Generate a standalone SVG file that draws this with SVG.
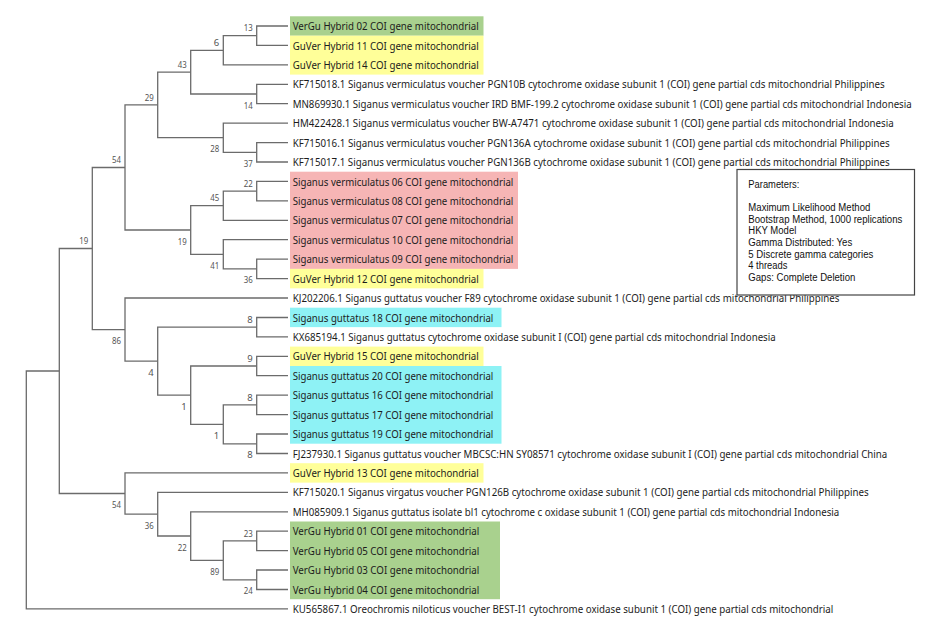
<svg xmlns="http://www.w3.org/2000/svg" width="940" height="622" viewBox="0 0 940 622">
<style>
.br{fill:none;stroke:#6b6b6b;stroke-width:1.3}
.lf{font-family:"Noto Sans","Open Sans",sans-serif;font-size:11.6px;fill:#1c1c1c}
.bs{font-family:"Noto Sans","Open Sans",sans-serif;font-size:9.5px;fill:#555;text-anchor:end}
.pm{font-family:"Liberation Sans",Arial,sans-serif;font-size:11.5px;fill:#111}
.hg{fill:#a9d18e}.hy{fill:#ffff99}.hp{fill:#f6b5b5}.hc{fill:#8ef2f5}
</style>
<rect width="940" height="622" fill="#fff"/>
<g id="highlights">
<rect class="hg" x="290" y="16.3" width="193.5" height="19.43"/>
<rect class="hy" x="290" y="35.7" width="193.5" height="38.9"/>
<rect class="hp" x="290" y="171.7" width="228" height="97.2"/>
<rect class="hy" x="290" y="268.9" width="193.5" height="19.43"/>
<rect class="hc" x="290" y="307.7" width="211.5" height="19.43"/>
<rect class="hy" x="290" y="346.6" width="193.5" height="19.43"/>
<rect class="hc" x="290" y="366.0" width="211.5" height="77.7"/>
<rect class="hy" x="290" y="463.2" width="193.5" height="19.43"/>
<rect class="hg" x="290" y="521.5" width="210" height="77.7"/>
</g>
<g id="connectors" class="br">
<path d="M26.3 490 V371 H59.3 M26.3 490 V608.9 H288"/>
<path d="M59.3 371 V248.5 H92.3 M59.3 371 V493.5 H125"/>
<path d="M92.3 248.5 V167.5 H125 M92.3 248.5 V329.6 H125"/>
<path d="M125 167.5 V104.9 H157.7 M125 167.5 V230 H190.7"/>
<path d="M157.7 104.9 V72.2 H190.7 M157.7 104.9 V137.7 H223.3"/>
<path d="M190.7 72.2 V50.3 H223.3 M190.7 72.2 V94 H256.7"/>
<path d="M223.3 50.3 V35.7 H256.7 M223.3 50.3 V64.9 H288"/>
<path d="M256.7 35.7 V26 H288 M256.7 35.7 V45.4 H288"/>
<path d="M256.7 94 V84.3 H288 M256.7 94 V103.7 H288"/>
<path d="M223.3 137.7 V123.2 H288 M223.3 137.7 V152.3 H256.7"/>
<path d="M256.7 152.3 V142.6 H288 M256.7 152.3 V162 H288"/>
<path d="M190.7 230 V205.7 H223.3 M190.7 230 V254.3 H223.3"/>
<path d="M223.3 205.7 V191.2 H256.7 M223.3 205.7 V220.3 H288"/>
<path d="M256.7 191.2 V181.4 H288 M256.7 191.2 V200.9 H288"/>
<path d="M223.3 254.3 V239.7 H288 M223.3 254.3 V268.9 H256.7"/>
<path d="M256.7 268.9 V259.2 H288 M256.7 268.9 V278.6 H288"/>
<path d="M125 329.6 V298 H288 M125 329.6 V361.2 H157.7"/>
<path d="M157.7 361.2 V327.2 H256.7 M157.7 361.2 V395.2 H190.7"/>
<path d="M256.7 327.2 V317.5 H288 M256.7 327.2 V336.9 H288"/>
<path d="M190.7 395.2 V366 H256.7 M190.7 395.2 V424.3 H223.3"/>
<path d="M256.7 366 V356.3 H288 M256.7 366 V375.7 H288"/>
<path d="M223.3 424.3 V404.9 H256.7 M223.3 424.3 V443.8 H256.7"/>
<path d="M256.7 404.9 V395.2 H288 M256.7 404.9 V414.6 H288"/>
<path d="M256.7 443.8 V434 H288 M256.7 443.8 V453.5 H288"/>
<path d="M125 493.5 V472.9 H288 M125 493.5 V514.2 H157.7"/>
<path d="M157.7 514.2 V492.3 H288 M157.7 514.2 V536 H190.7"/>
<path d="M190.7 536 V511.8 H288 M190.7 536 V560.3 H223.3"/>
<path d="M223.3 560.3 V540.9 H256.7 M223.3 560.3 V579.8 H256.7"/>
<path d="M256.7 540.9 V531.2 H288 M256.7 540.9 V550.6 H288"/>
<path d="M256.7 579.8 V570 H288 M256.7 579.8 V589.5 H288"/>
</g>
<g id="bootstrap-nodes">
<g id="n13"><text class="bs" x="252.7" y="31.4" textLength="9" lengthAdjust="spacingAndGlyphs">13</text></g>
<g id="n6"><text class="bs" x="219.3" y="46.0">6</text></g>
<g id="n43"><text class="bs" x="186.7" y="67.9" textLength="9" lengthAdjust="spacingAndGlyphs">43</text></g>
<g id="n14"><text class="bs" x="252.7" y="108.5" textLength="9" lengthAdjust="spacingAndGlyphs">14</text></g>
<g id="n29"><text class="bs" x="153.7" y="100.6" textLength="9" lengthAdjust="spacingAndGlyphs">29</text></g>
<g id="n28"><text class="bs" x="219.3" y="152.2" textLength="9" lengthAdjust="spacingAndGlyphs">28</text></g>
<g id="n37"><text class="bs" x="252.7" y="166.8" textLength="9" lengthAdjust="spacingAndGlyphs">37</text></g>
<g id="n54a"><text class="bs" x="121" y="163.2" textLength="9" lengthAdjust="spacingAndGlyphs">54</text></g>
<g id="n22a"><text class="bs" x="252.7" y="186.9" textLength="9" lengthAdjust="spacingAndGlyphs">22</text></g>
<g id="n45"><text class="bs" x="219.3" y="201.4" textLength="9" lengthAdjust="spacingAndGlyphs">45</text></g>
<g id="n19a"><text class="bs" x="186.7" y="244.5" textLength="9" lengthAdjust="spacingAndGlyphs">19</text></g>
<g id="n41"><text class="bs" x="219.3" y="268.8" textLength="9" lengthAdjust="spacingAndGlyphs">41</text></g>
<g id="n36a"><text class="bs" x="252.7" y="283.4" textLength="9" lengthAdjust="spacingAndGlyphs">36</text></g>
<g id="n19b"><text class="bs" x="88.3" y="244.2" textLength="9" lengthAdjust="spacingAndGlyphs">19</text></g>
<g id="n86"><text class="bs" x="121" y="344.1" textLength="9" lengthAdjust="spacingAndGlyphs">86</text></g>
<g id="n8a"><text class="bs" x="252.7" y="322.9">8</text></g>
<g id="n4"><text class="bs" x="153.7" y="375.7">4</text></g>
<g id="n9"><text class="bs" x="252.7" y="361.7">9</text></g>
<g id="n1a"><text class="bs" x="186.7" y="409.7">1</text></g>
<g id="n8b"><text class="bs" x="252.7" y="400.6">8</text></g>
<g id="n1b"><text class="bs" x="219.3" y="438.8">1</text></g>
<g id="n8c"><text class="bs" x="252.7" y="458.3">8</text></g>
<g id="n54b"><text class="bs" x="121" y="508.0" textLength="9" lengthAdjust="spacingAndGlyphs">54</text></g>
<g id="n36b"><text class="bs" x="153.7" y="528.7" textLength="9" lengthAdjust="spacingAndGlyphs">36</text></g>
<g id="n22b"><text class="bs" x="186.7" y="550.5" textLength="9" lengthAdjust="spacingAndGlyphs">22</text></g>
<g id="n89"><text class="bs" x="219.3" y="574.8" textLength="9" lengthAdjust="spacingAndGlyphs">89</text></g>
<g id="n23"><text class="bs" x="252.7" y="536.6" textLength="9" lengthAdjust="spacingAndGlyphs">23</text></g>
<g id="n24"><text class="bs" x="252.7" y="594.3" textLength="9" lengthAdjust="spacingAndGlyphs">24</text></g>
</g>
<g id="leaves">
<g id="leaf-00"><text class="lf" transform="scale(0.8 1)" x="365.9" y="30.2" textLength="232.5" lengthAdjust="spacingAndGlyphs">VerGu Hybrid 02 COI gene mitochondrial</text></g>
<g id="leaf-01"><text class="lf" transform="scale(0.8 1)" x="365.9" y="49.6" textLength="232.5" lengthAdjust="spacingAndGlyphs">GuVer Hybrid 11 COI gene mitochondrial</text></g>
<g id="leaf-02"><text class="lf" transform="scale(0.8 1)" x="365.9" y="69.1" textLength="232.5" lengthAdjust="spacingAndGlyphs">GuVer Hybrid 14 COI gene mitochondrial</text></g>
<g id="leaf-03"><text class="lf" transform="scale(0.8 1)" x="365.9" y="88.5" textLength="740" lengthAdjust="spacingAndGlyphs">KF715018.1 Siganus vermiculatus voucher PGN10B cytochrome oxidase subunit 1 (COI) gene partial cds mitochondrial Philippines</text></g>
<g id="leaf-04"><text class="lf" transform="scale(0.8 1)" x="365.9" y="107.9" textLength="773.75" lengthAdjust="spacingAndGlyphs">MN869930.1 Siganus vermiculatus voucher IRD BMF-199.2 cytochrome oxidase subunit 1 (COI) gene partial cds mitochondrial Indonesia</text></g>
<g id="leaf-05"><text class="lf" transform="scale(0.8 1)" x="365.9" y="127.4" textLength="751.25" lengthAdjust="spacingAndGlyphs">HM422428.1 Siganus vermiculatus voucher BW-A7471 cytochrome oxidase subunit 1 (COI) gene partial cds mitochondrial Indonesia</text></g>
<g id="leaf-06"><text class="lf" transform="scale(0.8 1)" x="365.9" y="146.8" textLength="746.25" lengthAdjust="spacingAndGlyphs">KF715016.1 Siganus vermiculatus voucher PGN136A cytochrome oxidase subunit 1 (COI) gene partial cds mitochondrial Philippines</text></g>
<g id="leaf-07"><text class="lf" transform="scale(0.8 1)" x="365.9" y="166.2" textLength="746.25" lengthAdjust="spacingAndGlyphs">KF715017.1 Siganus vermiculatus voucher PGN136B cytochrome oxidase subunit 1 (COI) gene partial cds mitochondrial Philippines</text></g>
<g id="leaf-08"><text class="lf" transform="scale(0.8 1)" x="365.9" y="185.6" textLength="275.75" lengthAdjust="spacingAndGlyphs">Siganus vermiculatus 06 COI gene mitochondrial</text></g>
<g id="leaf-09"><text class="lf" transform="scale(0.8 1)" x="365.9" y="205.1" textLength="275.75" lengthAdjust="spacingAndGlyphs">Siganus vermiculatus 08 COI gene mitochondrial</text></g>
<g id="leaf-10"><text class="lf" transform="scale(0.8 1)" x="365.9" y="224.5" textLength="275.75" lengthAdjust="spacingAndGlyphs">Siganus vermiculatus 07 COI gene mitochondrial</text></g>
<g id="leaf-11"><text class="lf" transform="scale(0.8 1)" x="365.9" y="243.9" textLength="275.75" lengthAdjust="spacingAndGlyphs">Siganus vermiculatus 10 COI gene mitochondrial</text></g>
<g id="leaf-12"><text class="lf" transform="scale(0.8 1)" x="365.9" y="263.4" textLength="275.75" lengthAdjust="spacingAndGlyphs">Siganus vermiculatus 09 COI gene mitochondrial</text></g>
<g id="leaf-13"><text class="lf" transform="scale(0.8 1)" x="365.9" y="282.8" textLength="232.5" lengthAdjust="spacingAndGlyphs">GuVer Hybrid 12 COI gene mitochondrial</text></g>
<g id="leaf-14"><text class="lf" transform="scale(0.8 1)" x="365.9" y="302.2" textLength="683.25" lengthAdjust="spacingAndGlyphs">KJ202206.1 Siganus guttatus voucher F89 cytochrome oxidase subunit 1 (COI) gene partial cds mitochondrial Philippines</text></g>
<g id="leaf-15"><text class="lf" transform="scale(0.8 1)" x="365.9" y="321.7" textLength="250.75" lengthAdjust="spacingAndGlyphs">Siganus guttatus 18 COI gene mitochondrial</text></g>
<g id="leaf-16"><text class="lf" transform="scale(0.8 1)" x="365.9" y="341.1" textLength="603.75" lengthAdjust="spacingAndGlyphs">KX685194.1 Siganus guttatus cytochrome oxidase subunit I (COI) gene partial cds mitochondrial Indonesia</text></g>
<g id="leaf-17"><text class="lf" transform="scale(0.8 1)" x="365.9" y="360.5" textLength="232.5" lengthAdjust="spacingAndGlyphs">GuVer Hybrid 15 COI gene mitochondrial</text></g>
<g id="leaf-18"><text class="lf" transform="scale(0.8 1)" x="365.9" y="379.9" textLength="250.75" lengthAdjust="spacingAndGlyphs">Siganus guttatus 20 COI gene mitochondrial</text></g>
<g id="leaf-19"><text class="lf" transform="scale(0.8 1)" x="365.9" y="399.4" textLength="250.75" lengthAdjust="spacingAndGlyphs">Siganus guttatus 16 COI gene mitochondrial</text></g>
<g id="leaf-20"><text class="lf" transform="scale(0.8 1)" x="365.9" y="418.8" textLength="250.75" lengthAdjust="spacingAndGlyphs">Siganus guttatus 17 COI gene mitochondrial</text></g>
<g id="leaf-21"><text class="lf" transform="scale(0.8 1)" x="365.9" y="438.2" textLength="250.75" lengthAdjust="spacingAndGlyphs">Siganus guttatus 19 COI gene mitochondrial</text></g>
<g id="leaf-22"><text class="lf" transform="scale(0.8 1)" x="365.9" y="457.7" textLength="743.25" lengthAdjust="spacingAndGlyphs">FJ237930.1 Siganus guttatus voucher MBCSC:HN SY08571 cytochrome oxidase subunit I (COI) gene partial cds mitochondrial China</text></g>
<g id="leaf-23"><text class="lf" transform="scale(0.8 1)" x="365.9" y="477.1" textLength="232.5" lengthAdjust="spacingAndGlyphs">GuVer Hybrid 13 COI gene mitochondrial</text></g>
<g id="leaf-24"><text class="lf" transform="scale(0.8 1)" x="365.9" y="496.5" textLength="720" lengthAdjust="spacingAndGlyphs">KF715020.1 Siganus virgatus voucher PGN126B cytochrome oxidase subunit 1 (COI) gene partial cds mitochondrial Philippines</text></g>
<g id="leaf-25"><text class="lf" transform="scale(0.8 1)" x="365.9" y="516.0" textLength="683.25" lengthAdjust="spacingAndGlyphs">MH085909.1 Siganus guttatus isolate bl1 cytochrome c oxidase subunit 1 (COI) gene partial cds mitochondrial Indonesia</text></g>
<g id="leaf-26"><text class="lf" transform="scale(0.8 1)" x="365.9" y="535.4" textLength="233.25" lengthAdjust="spacingAndGlyphs">VerGu Hybrid 01 COI gene mitochondrial</text></g>
<g id="leaf-27"><text class="lf" transform="scale(0.8 1)" x="365.9" y="554.8" textLength="233.25" lengthAdjust="spacingAndGlyphs">VerGu Hybrid 05 COI gene mitochondrial</text></g>
<g id="leaf-28"><text class="lf" transform="scale(0.8 1)" x="365.9" y="574.2" textLength="233.25" lengthAdjust="spacingAndGlyphs">VerGu Hybrid 03 COI gene mitochondrial</text></g>
<g id="leaf-29"><text class="lf" transform="scale(0.8 1)" x="365.9" y="593.7" textLength="233.25" lengthAdjust="spacingAndGlyphs">VerGu Hybrid 04 COI gene mitochondrial</text></g>
<g id="leaf-30"><text class="lf" transform="scale(0.8 1)" x="365.9" y="613.1" textLength="675.75" lengthAdjust="spacingAndGlyphs">KU565867.1 Oreochromis niloticus voucher BEST-I1 cytochrome oxidase subunit 1 (COI) gene partial cds mitochondrial</text></g>
</g>
<g id="parameters">
<rect x="737" y="169.5" width="177.5" height="125.5" fill="#fff" stroke="#444" stroke-width="1.2"/>
<text class="pm" transform="scale(0.8 1)" x="935.4" y="187.7" textLength="63.75" lengthAdjust="spacingAndGlyphs">Parameters:</text>
<text class="pm" transform="scale(0.8 1)" x="935.4" y="211" textLength="152.5" lengthAdjust="spacingAndGlyphs">Maximum Likelihood Method</text>
<text class="pm" transform="scale(0.8 1)" x="935.4" y="222.7" textLength="192.5" lengthAdjust="spacingAndGlyphs">Bootstrap Method, 1000 replications</text>
<text class="pm" transform="scale(0.8 1)" x="935.4" y="234.4" textLength="60" lengthAdjust="spacingAndGlyphs">HKY Model</text>
<text class="pm" transform="scale(0.8 1)" x="935.4" y="246.1" textLength="130" lengthAdjust="spacingAndGlyphs">Gamma Distributed: Yes</text>
<text class="pm" transform="scale(0.8 1)" x="935.4" y="257.8" textLength="156.25" lengthAdjust="spacingAndGlyphs">5 Discrete gamma categories</text>
<text class="pm" transform="scale(0.8 1)" x="935.4" y="269.5" textLength="48.75" lengthAdjust="spacingAndGlyphs">4 threads</text>
<text class="pm" transform="scale(0.8 1)" x="935.4" y="281.2" textLength="133.75" lengthAdjust="spacingAndGlyphs">Gaps: Complete Deletion</text>
</g>
</svg>
